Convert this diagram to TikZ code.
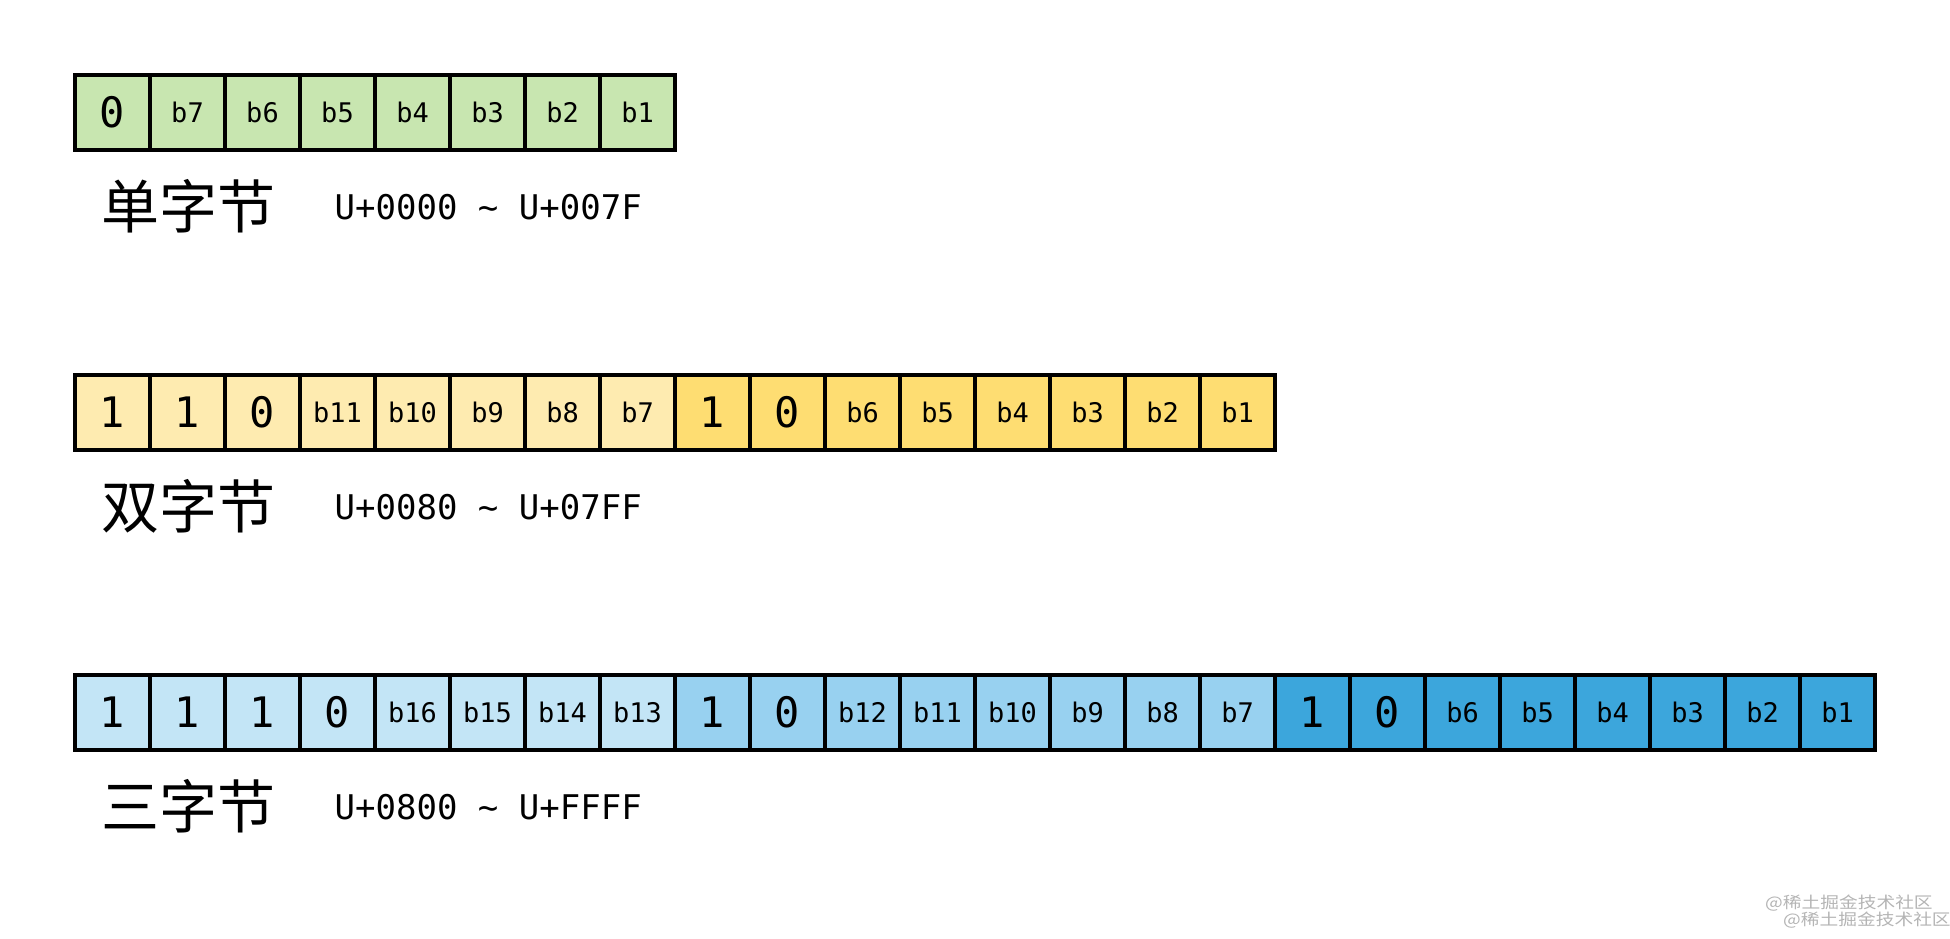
\documentclass[tikz,border=0pt]{standalone}
\usepackage{fontspec}
\usepackage{graphicx}
\newfontfamily\cjk{Noto Sans CJK SC}
\newfontfamily\monof{DejaVu Sans Mono}
\definecolor{gA}{HTML}{C8E6B0}
\definecolor{yA}{HTML}{FEEBB0}
\definecolor{yB}{HTML}{FEDD72}
\definecolor{bA}{HTML}{C3E5F6}
\definecolor{bB}{HTML}{98D1F0}
\definecolor{bC}{HTML}{3CA6DC}
\definecolor{wm}{HTML}{B4B4B4}
\tikzset{
  cellbox/.style={draw=black, line width=4pt, minimum width=75pt, minimum height=75pt, inner sep=0pt},
  smalltxt/.style={font=\monof\fontsize{27}{27}\selectfont},
  bigtxt/.style={font=\monof\fontsize{42}{42}\selectfont},
  titletxt/.style={anchor=base west, inner sep=0pt, font=\cjk\fontsize{58}{58}\selectfont},
  rangetxt/.style={anchor=base west, inner sep=0pt, font=\monof\fontsize{34}{34}\selectfont},
  wmarktxt/.style={anchor=west, inner sep=0pt, text=wm, font=\cjk\fontsize{16}{16}\selectfont}
}
\begin{document}
\begin{tikzpicture}[x=1pt,y=-1pt]
\useasboundingbox (0,0) rectangle (1950,938);
% row 1
\foreach [count=\i] \t/\c/\s in {0/gA/bigtxt,b7/gA/smalltxt,b6/gA/smalltxt,b5/gA/smalltxt,b4/gA/smalltxt,b3/gA/smalltxt,b2/gA/smalltxt,b1/gA/smalltxt}
  \node[cellbox, fill=\c, \s] (a\i) at ({37.5+75*\i},112.5) {\t};
\node[titletxt] (ta) at (101,228) {单字节};
\node[rangetxt] (ra) at (334.5,219.3) {U+0000 \textasciitilde{} U+007F};
% row 2
\foreach [count=\i] \t/\c/\s in {1/yA/bigtxt,1/yA/bigtxt,0/yA/bigtxt,b11/yA/smalltxt,b10/yA/smalltxt,b9/yA/smalltxt,b8/yA/smalltxt,b7/yA/smalltxt,1/yB/bigtxt,0/yB/bigtxt,b6/yB/smalltxt,b5/yB/smalltxt,b4/yB/smalltxt,b3/yB/smalltxt,b2/yB/smalltxt,b1/yB/smalltxt}
  \node[cellbox, fill=\c, \s] (b\i) at ({37.5+75*\i},412.5) {\t};
\node[titletxt] (tb) at (101,528) {双字节};
\node[rangetxt] (rb) at (334.5,519.3) {U+0080 \textasciitilde{} U+07FF};
% row 3
\foreach [count=\i] \t/\c/\s in {1/bA/bigtxt,1/bA/bigtxt,1/bA/bigtxt,0/bA/bigtxt,b16/bA/smalltxt,b15/bA/smalltxt,b14/bA/smalltxt,b13/bA/smalltxt,1/bB/bigtxt,0/bB/bigtxt,b12/bB/smalltxt,b11/bB/smalltxt,b10/bB/smalltxt,b9/bB/smalltxt,b8/bB/smalltxt,b7/bB/smalltxt,1/bC/bigtxt,0/bC/bigtxt,b6/bC/smalltxt,b5/bC/smalltxt,b4/bC/smalltxt,b3/bC/smalltxt,b2/bC/smalltxt,b1/bC/smalltxt}
  \node[cellbox, fill=\c, \s] (c\i) at ({37.5+75*\i},712.5) {\t};
\node[titletxt] (tc) at (101,828) {三字节};
\node[rangetxt] (rc) at (334.5,819.3) {U+0800 \textasciitilde{} U+FFFF};
% watermark
\node[wmarktxt] (w1) at (1765,903) {\scalebox{1.17}[1]{@稀土掘金技术社区}};
\node[wmarktxt] (w2) at (1783,920) {\scalebox{1.17}[1]{@稀土掘金技术社区}};
\end{tikzpicture}
\end{document}
